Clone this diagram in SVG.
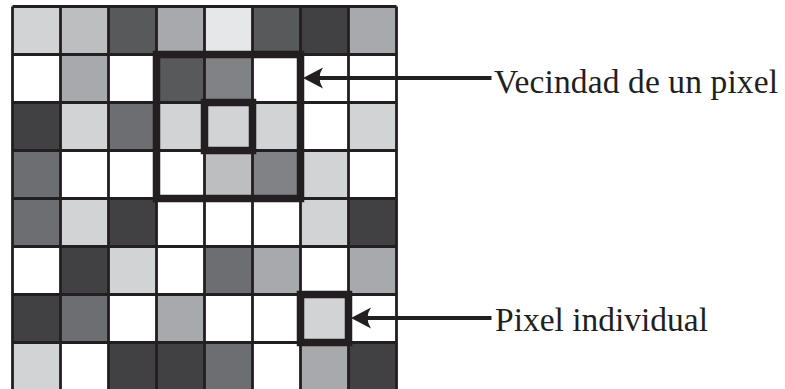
<svg xmlns="http://www.w3.org/2000/svg" width="785" height="389" viewBox="0 0 785 389">
  <style>
    .g1 { fill: #ffffff; }
    .g2 { fill: #e6e7e8; }
    .g3 { fill: #d1d3d4; }
    .g4 { fill: #bcbec0; }
    .g5 { fill: #a7a9ac; }
    .g6 { fill: #808285; }
    .g7 { fill: #6d6e71; }
    .g8 { fill: #58595b; }
    .g9 { fill: #414042; }
    .grid { stroke: #231f20; stroke-width: 2.8; fill: none; }
    .box { stroke: #231f20; stroke-width: 7.5; fill: none; }
    .conn { stroke: #231f20; stroke-width: 4.2; fill: none; }
    .label { font-family: "Liberation Serif", "Times New Roman", serif; font-size: 33.5px; fill: #231f20; }
  </style>
  <defs>
    <marker id="head" markerUnits="userSpaceOnUse" viewBox="-24 -13 28 26" markerWidth="28" markerHeight="26" refX="-8" refY="0" orient="auto" overflow="visible">
      <path d="M0,0 L-20,-10.5 Q-13,0 -20,10.5 Z" fill="#231f20"/>
    </marker>
  </defs>
  <rect width="785" height="389" fill="#ffffff"/>

  <!-- 8x8 pixel grid: 48px cells starting at (12.5, 6.5) -->
  <g id="pixel-grid">
    <g id="cells">
      <!-- row 0 -->
      <rect class="g3" x="12.5" y="6.5" width="48" height="48"/>
      <rect class="g4" x="60.5" y="6.5" width="48" height="48"/>
      <rect class="g8" x="108.5" y="6.5" width="48" height="48"/>
      <rect class="g5" x="156.5" y="6.5" width="48" height="48"/>
      <rect class="g2" x="204.5" y="6.5" width="48" height="48"/>
      <rect class="g8" x="252.5" y="6.5" width="48" height="48"/>
      <rect class="g9" x="300.5" y="6.5" width="48" height="48"/>
      <rect class="g5" x="348.5" y="6.5" width="48" height="48"/>
      <!-- row 1 -->
      <rect class="g1" x="12.5" y="54.5" width="48" height="48"/>
      <rect class="g5" x="60.5" y="54.5" width="48" height="48"/>
      <rect class="g1" x="108.5" y="54.5" width="48" height="48"/>
      <rect class="g8" x="156.5" y="54.5" width="48" height="48"/>
      <rect class="g6" x="204.5" y="54.5" width="48" height="48"/>
      <rect class="g1" x="252.5" y="54.5" width="48" height="48"/>
      <rect class="g1" x="300.5" y="54.5" width="48" height="48"/>
      <rect class="g1" x="348.5" y="54.5" width="48" height="48"/>
      <!-- row 2 -->
      <rect class="g9" x="12.5" y="102.5" width="48" height="48"/>
      <rect class="g3" x="60.5" y="102.5" width="48" height="48"/>
      <rect class="g7" x="108.5" y="102.5" width="48" height="48"/>
      <rect class="g3" x="156.5" y="102.5" width="48" height="48"/>
      <rect class="g3" x="204.5" y="102.5" width="48" height="48"/>
      <rect class="g3" x="252.5" y="102.5" width="48" height="48"/>
      <rect class="g1" x="300.5" y="102.5" width="48" height="48"/>
      <rect class="g3" x="348.5" y="102.5" width="48" height="48"/>
      <!-- row 3 -->
      <rect class="g7" x="12.5" y="150.5" width="48" height="48"/>
      <rect class="g1" x="60.5" y="150.5" width="48" height="48"/>
      <rect class="g1" x="108.5" y="150.5" width="48" height="48"/>
      <rect class="g1" x="156.5" y="150.5" width="48" height="48"/>
      <rect class="g4" x="204.5" y="150.5" width="48" height="48"/>
      <rect class="g6" x="252.5" y="150.5" width="48" height="48"/>
      <rect class="g3" x="300.5" y="150.5" width="48" height="48"/>
      <rect class="g1" x="348.5" y="150.5" width="48" height="48"/>
      <!-- row 4 -->
      <rect class="g7" x="12.5" y="198.5" width="48" height="48"/>
      <rect class="g3" x="60.5" y="198.5" width="48" height="48"/>
      <rect class="g9" x="108.5" y="198.5" width="48" height="48"/>
      <rect class="g1" x="156.5" y="198.5" width="48" height="48"/>
      <rect class="g1" x="204.5" y="198.5" width="48" height="48"/>
      <rect class="g1" x="252.5" y="198.5" width="48" height="48"/>
      <rect class="g3" x="300.5" y="198.5" width="48" height="48"/>
      <rect class="g9" x="348.5" y="198.5" width="48" height="48"/>
      <!-- row 5 -->
      <rect class="g1" x="12.5" y="246.5" width="48" height="48"/>
      <rect class="g9" x="60.5" y="246.5" width="48" height="48"/>
      <rect class="g3" x="108.5" y="246.5" width="48" height="48"/>
      <rect class="g1" x="156.5" y="246.5" width="48" height="48"/>
      <rect class="g7" x="204.5" y="246.5" width="48" height="48"/>
      <rect class="g5" x="252.5" y="246.5" width="48" height="48"/>
      <rect class="g1" x="300.5" y="246.5" width="48" height="48"/>
      <rect class="g5" x="348.5" y="246.5" width="48" height="48"/>
      <!-- row 6 -->
      <rect class="g9" x="12.5" y="294.5" width="48" height="48"/>
      <rect class="g7" x="60.5" y="294.5" width="48" height="48"/>
      <rect class="g1" x="108.5" y="294.5" width="48" height="48"/>
      <rect class="g5" x="156.5" y="294.5" width="48" height="48"/>
      <rect class="g1" x="204.5" y="294.5" width="48" height="48"/>
      <rect class="g1" x="252.5" y="294.5" width="48" height="48"/>
      <rect class="g3" x="300.5" y="294.5" width="48" height="48"/>
      <rect class="g1" x="348.5" y="294.5" width="48" height="48"/>
      <!-- row 7 -->
      <rect class="g3" x="12.5" y="342.5" width="48" height="48"/>
      <rect class="g1" x="60.5" y="342.5" width="48" height="48"/>
      <rect class="g9" x="108.5" y="342.5" width="48" height="48"/>
      <rect class="g9" x="156.5" y="342.5" width="48" height="48"/>
      <rect class="g7" x="204.5" y="342.5" width="48" height="48"/>
      <rect class="g1" x="252.5" y="342.5" width="48" height="48"/>
      <rect class="g5" x="300.5" y="342.5" width="48" height="48"/>
      <rect class="g9" x="348.5" y="342.5" width="48" height="48"/>
    </g>
    <path class="grid" d="M12.5,6.5V390.5M60.5,6.5V390.5M108.5,6.5V390.5M156.5,6.5V390.5M204.5,6.5V390.5M252.5,6.5V390.5M300.5,6.5V390.5M348.5,6.5V390.5M396.5,6.5V390.5
      M12.5,6.5H396.5M12.5,54.5H396.5M12.5,102.5H396.5M12.5,150.5H396.5M12.5,198.5H396.5M12.5,246.5H396.5M12.5,294.5H396.5M12.5,342.5H396.5"/>
  </g>

  <g id="neighborhood">
    <rect class="box" x="156.5" y="54.5" width="144" height="144"/>
  </g>
  <g id="center-pixel">
    <rect class="box" x="204.5" y="102.5" width="48" height="48"/>
  </g>
  <g id="single-pixel">
    <rect class="box" x="300.5" y="294.5" width="48" height="48"/>
  </g>

  <g id="connectors">
    <line class="conn" x1="491.5" y1="78" x2="311" y2="78" marker-end="url(#head)"/>
    <line class="conn" x1="491.5" y1="318" x2="359" y2="318" marker-end="url(#head)"/>
  </g>

  <g id="label-neighborhood">
    <text class="label" x="494" y="92.5" textLength="284" lengthAdjust="spacing">Vecindad de un pixel</text>
  </g>
  <g id="label-pixel">
    <text class="label" x="495" y="331" textLength="213" lengthAdjust="spacing">Pixel individual</text>
  </g>
</svg>
